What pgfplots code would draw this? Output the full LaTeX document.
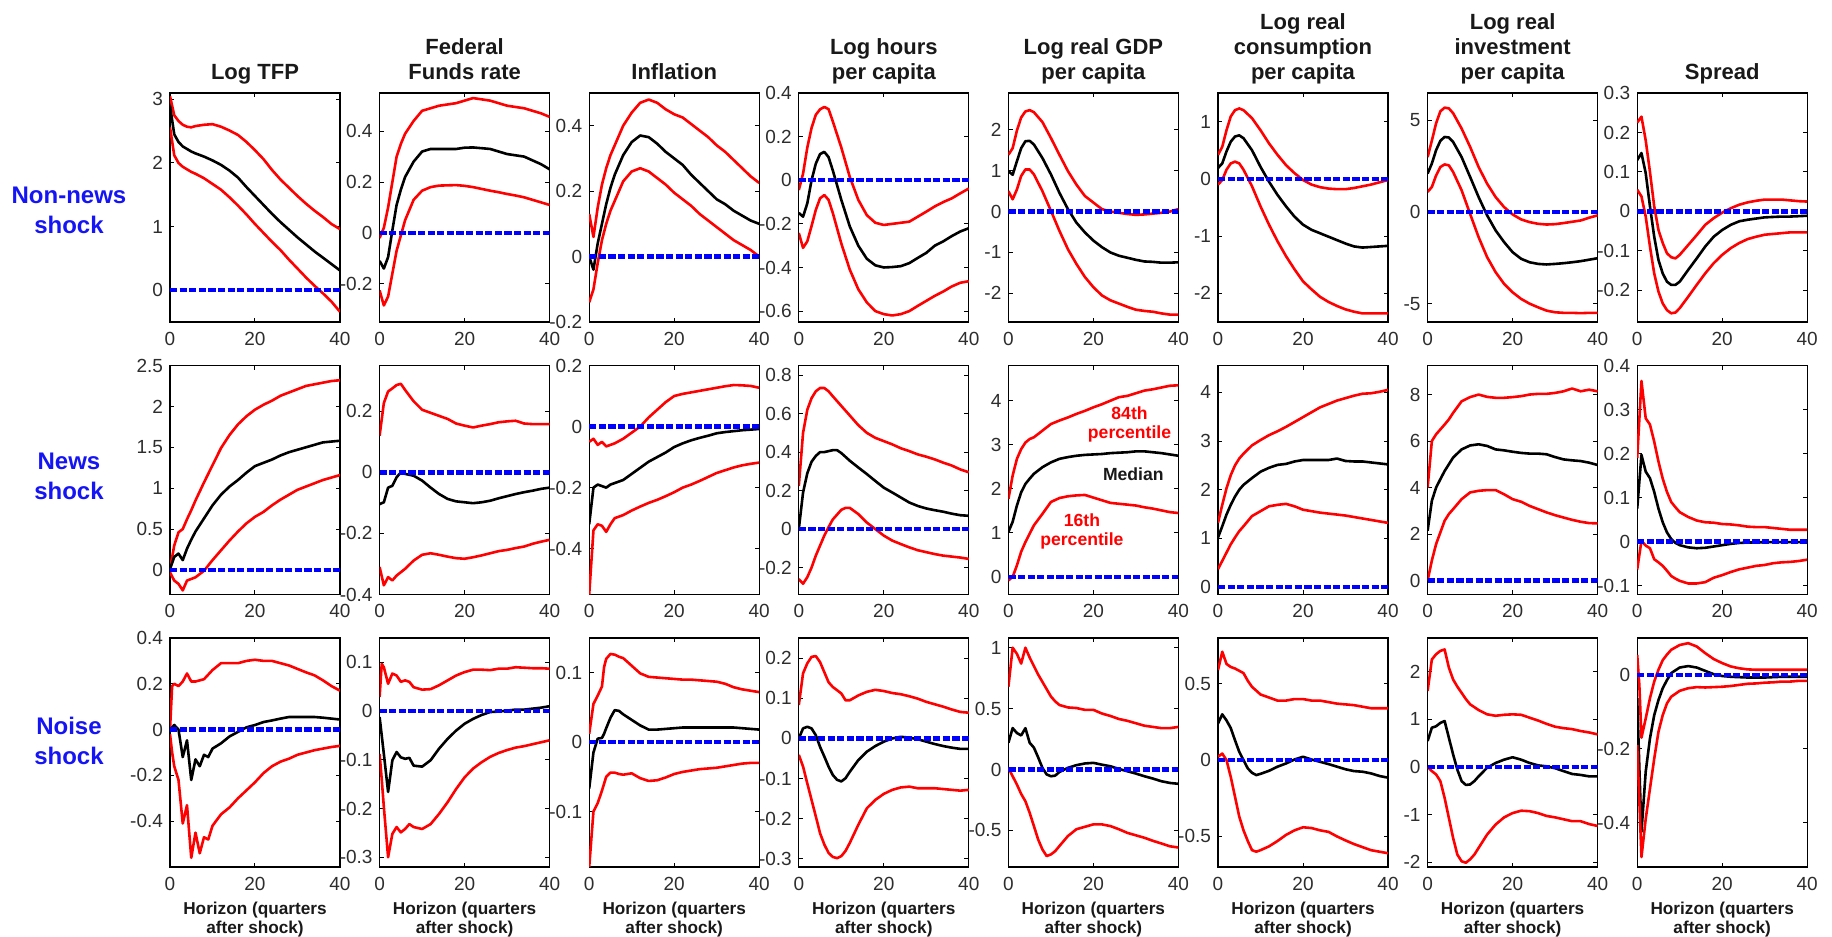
\documentclass[border=0pt]{standalone}
\usepackage{fontspec}
\setmainfont{Liberation Sans}
\usepackage{pgfplots}
\usepackage{pgfplotstable}
\pgfplotsset{compat=1.18}
\definecolor{lred}{RGB}{255,0,0}
\definecolor{lblue}{RGB}{0,0,255}
\definecolor{rowblue}{RGB}{20,20,245}
\definecolor{tickgray}{RGB}{45,45,45}

% ---------- Row 1: Non-news shock ----------
\pgfplotstableread{
x u m l
0 3.05 2.9 2.56
1 2.75 2.45 2.12
2 2.66 2.33 2.0
3 2.6 2.26 1.94
4 2.57 2.22 1.9
5 2.56 2.18 1.86
6 2.58 2.15 1.83
8 2.6 2.1 1.76
10 2.61 2.04 1.67
12 2.57 1.97 1.58
14 2.51 1.88 1.46
16 2.44 1.77 1.33
18 2.33 1.62 1.19
20 2.2 1.48 1.04
22 2.06 1.34 0.9
24 1.89 1.2 0.76
26 1.74 1.07 0.63
28 1.61 0.95 0.48
30 1.48 0.83 0.34
32 1.36 0.72 0.2
34 1.25 0.61 0.07
36 1.15 0.51 -0.05
38 1.04 0.41 -0.18
40 0.96 0.31 -0.34
}\tAA
\pgfplotstableread{
x u m l
0 -0.02 -0.11 -0.226
1 0.02 -0.14 -0.285
2 0.10 -0.095 -0.25
3 0.2 0.01 -0.16
4 0.3 0.11 -0.07
5 0.35 0.17 -0.01
6 0.39 0.22 0.05
8 0.44 0.28 0.13
10 0.48 0.32 0.166
12 0.49 0.33 0.18
14 0.5 0.33 0.186
16 0.505 0.33 0.187
18 0.51 0.33 0.188
20 0.52 0.335 0.185
22 0.53 0.336 0.18
24 0.525 0.333 0.173
26 0.52 0.33 0.166
28 0.51 0.32 0.16
30 0.50 0.31 0.153
32 0.495 0.305 0.147
34 0.49 0.30 0.14
36 0.48 0.285 0.13
38 0.47 0.27 0.12
40 0.456 0.25 0.11
}\tAB
\pgfplotstableread{
x u m l
0 0.13 0.0 -0.14
1 0.06 -0.04 -0.1
2 0.15 0.04 -0.02
3 0.22 0.1 0.05
4 0.27 0.16 0.1
5 0.31 0.21 0.14
6 0.34 0.25 0.17
8 0.40 0.31 0.23
10 0.44 0.35 0.26
12 0.47 0.37 0.27
14 0.48 0.365 0.26
16 0.47 0.345 0.24
18 0.45 0.32 0.22
20 0.435 0.30 0.195
22 0.425 0.28 0.175
24 0.405 0.25 0.155
26 0.385 0.225 0.13
28 0.365 0.2 0.11
30 0.34 0.175 0.09
32 0.32 0.16 0.07
34 0.295 0.14 0.05
36 0.27 0.125 0.035
38 0.245 0.11 0.02
40 0.225 0.1 0.0
}\tAC
\pgfplotstableread{
x u m l
0 -0.045 -0.15 -0.242
1 0.03 -0.167 -0.31
2 0.15 -0.106 -0.28
3 0.24 0.0 -0.21
4 0.30 0.076 -0.136
5 0.325 0.12 -0.083
6 0.336 0.13 -0.068
7 0.326 0.106 -0.09
8 0.27 0.045 -0.15
10 0.15 -0.09 -0.29
12 0.015 -0.212 -0.41
14 -0.09 -0.3 -0.5
16 -0.16 -0.36 -0.56
18 -0.195 -0.39 -0.6
20 -0.205 -0.4 -0.614
22 -0.2 -0.398 -0.62
24 -0.195 -0.394 -0.614
26 -0.19 -0.38 -0.6
28 -0.167 -0.356 -0.576
30 -0.144 -0.333 -0.553
32 -0.12 -0.3 -0.53
34 -0.1 -0.28 -0.51
36 -0.083 -0.256 -0.487
38 -0.06 -0.235 -0.47
40 -0.038 -0.22 -0.463
}\tAD
\pgfplotstableread{
x u m l
0 1.39 0.99 0.5
1 1.55 0.9 0.3
2 1.98 1.23 0.54
3 2.3 1.55 0.87
4 2.45 1.72 1.03
5 2.48 1.73 1.03
6 2.43 1.64 0.91
8 2.19 1.31 0.5
10 1.8 0.91 0.02
12 1.39 0.46 -0.47
14 0.99 0.06 -0.92
16 0.66 -0.27 -1.28
18 0.38 -0.51 -1.6
20 0.22 -0.71 -1.85
22 0.06 -0.87 -2.05
24 0.0 -1.0 -2.17
26 -0.03 -1.08 -2.25
28 -0.06 -1.13 -2.33
30 -0.08 -1.18 -2.4
32 -0.07 -1.22 -2.43
34 -0.05 -1.23 -2.45
36 -0.03 -1.25 -2.49
38 0.0 -1.25 -2.52
40 0.06 -1.24 -2.52
}\tAE
\pgfplotstableread{
x u m l
0 0.42 0.19 -0.1
1 0.56 0.27 -0.02
2 0.85 0.48 0.16
3 1.09 0.65 0.27
4 1.2 0.74 0.3
5 1.23 0.76 0.27
6 1.2 0.71 0.16
8 1.06 0.5 -0.13
10 0.85 0.21 -0.48
12 0.62 -0.05 -0.8
14 0.42 -0.28 -1.09
16 0.24 -0.48 -1.35
18 0.1 -0.66 -1.58
20 -0.02 -0.8 -1.79
22 -0.1 -0.89 -1.93
24 -0.145 -0.95 -2.06
26 -0.17 -1.01 -2.15
28 -0.18 -1.07 -2.22
30 -0.18 -1.13 -2.28
32 -0.16 -1.18 -2.32
34 -0.13 -1.2 -2.35
36 -0.1 -1.19 -2.35
38 -0.06 -1.18 -2.35
40 -0.02 -1.17 -2.35
}\tAF
\pgfplotstableread{
x u m l
0 3.0 2.1 1.1
1 3.9 2.65 1.37
2 4.85 3.38 2.0
3 5.5 3.89 2.46
4 5.7 4.1 2.6
5 5.66 4.07 2.55
6 5.4 3.83 2.19
8 4.56 3.0 1.19
10 3.56 1.92 -0.1
12 2.46 0.82 -1.37
14 1.55 -0.18 -2.46
16 0.82 -1.0 -3.28
18 0.27 -1.64 -3.92
20 -0.13 -2.19 -4.38
22 -0.4 -2.55 -4.74
24 -0.55 -2.74 -5.0
26 -0.64 -2.83 -5.2
28 -0.68 -2.86 -5.38
30 -0.66 -2.83 -5.47
32 -0.6 -2.79 -5.5
34 -0.53 -2.74 -5.5
36 -0.46 -2.68 -5.52
38 -0.31 -2.6 -5.5
40 -0.18 -2.52 -5.5
}\tAG
\pgfplotstableread{
x u m l
0 0.225 0.13 0.055
1 0.24 0.148 0.038
2 0.18 0.097 -0.013
3 0.1 0.013 -0.089
4 0.013 -0.064 -0.157
5 -0.047 -0.123 -0.203
6 -0.08 -0.157 -0.233
7 -0.106 -0.178 -0.25
8 -0.116 -0.186 -0.258
9 -0.119 -0.186 -0.256
10 -0.11 -0.178 -0.245
12 -0.085 -0.148 -0.216
14 -0.06 -0.119 -0.186
16 -0.034 -0.089 -0.157
18 -0.017 -0.064 -0.131
20 -0.003 -0.047 -0.11
22 0.008 -0.034 -0.093
24 0.017 -0.025 -0.08
26 0.023 -0.021 -0.07
28 0.027 -0.018 -0.064
30 0.03 -0.015 -0.059
32 0.03 -0.014 -0.057
34 0.03 -0.013 -0.055
36 0.028 -0.013 -0.053
38 0.026 -0.012 -0.053
40 0.025 -0.011 -0.053
}\tAH

% ---------- Row 2: News shock ----------
\pgfplotstableread{
x u m l
0 0.01 0.01 -0.03
1 0.3 0.16 -0.13
2 0.46 0.2 -0.17
3 0.5 0.12 -0.25
4 0.62 0.26 -0.13
5 0.73 0.37 -0.11
6 0.85 0.47 -0.09
8 1.07 0.63 -0.01
10 1.28 0.79 0.12
12 1.49 0.92 0.24
14 1.65 1.02 0.36
16 1.78 1.1 0.47
18 1.88 1.19 0.57
20 1.96 1.27 0.65
22 2.02 1.31 0.71
24 2.07 1.35 0.79
26 2.13 1.4 0.86
28 2.17 1.44 0.92
30 2.21 1.47 0.98
32 2.25 1.5 1.02
34 2.27 1.53 1.06
36 2.29 1.56 1.1
38 2.31 1.57 1.13
40 2.32 1.58 1.16
}\tBA
\pgfplotstableread{
x u m l
0 0.12 -0.104 -0.31
1 0.227 -0.098 -0.37
2 0.265 -0.05 -0.343
3 0.275 -0.044 -0.354
4 0.286 -0.016 -0.338
5 0.29 0.0 -0.327
6 0.27 -0.005 -0.316
8 0.233 -0.011 -0.289
10 0.205 -0.027 -0.27
12 0.195 -0.05 -0.265
14 0.185 -0.071 -0.27
16 0.175 -0.087 -0.276
18 0.16 -0.095 -0.281
20 0.153 -0.098 -0.283
22 0.147 -0.101 -0.278
24 0.153 -0.098 -0.272
26 0.158 -0.093 -0.265
28 0.164 -0.085 -0.258
30 0.167 -0.078 -0.254
32 0.169 -0.071 -0.248
34 0.16 -0.065 -0.243
36 0.158 -0.06 -0.234
38 0.158 -0.054 -0.227
40 0.158 -0.05 -0.221
}\tBB
\pgfplotstableread{
x u m l
0 -0.05 -0.32 -0.55
1 -0.04 -0.2 -0.34
2 -0.06 -0.19 -0.32
3 -0.05 -0.195 -0.325
4 -0.065 -0.2 -0.345
5 -0.06 -0.19 -0.32
6 -0.055 -0.185 -0.3
8 -0.04 -0.175 -0.29
10 -0.02 -0.155 -0.275
12 0.0 -0.135 -0.262
14 0.03 -0.115 -0.25
16 0.055 -0.1 -0.24
18 0.08 -0.085 -0.228
20 0.1 -0.067 -0.215
22 0.107 -0.055 -0.2
24 0.112 -0.045 -0.19
26 0.117 -0.037 -0.178
28 0.122 -0.03 -0.165
30 0.127 -0.022 -0.152
32 0.132 -0.018 -0.143
34 0.136 -0.015 -0.134
36 0.135 -0.012 -0.127
38 0.133 -0.01 -0.122
40 0.127 -0.008 -0.118
}\tBC
\pgfplotstableread{
x u m l
0 0.224 0.0 -0.26
1 0.5 0.19 -0.284
2 0.62 0.29 -0.25
3 0.68 0.35 -0.2
4 0.716 0.38 -0.138
5 0.733 0.4 -0.086
6 0.733 0.4 -0.034
7 0.716 0.405 0.01
8 0.69 0.41 0.05
9 0.665 0.41 0.075
10 0.64 0.395 0.1
11 0.615 0.375 0.11
12 0.59 0.355 0.11
14 0.54 0.32 0.078
16 0.5 0.286 0.034
18 0.474 0.25 0.0
20 0.457 0.215 -0.034
22 0.44 0.19 -0.06
24 0.42 0.164 -0.078
26 0.405 0.138 -0.095
28 0.388 0.12 -0.11
30 0.376 0.107 -0.12
32 0.362 0.098 -0.13
34 0.345 0.09 -0.138
36 0.33 0.08 -0.143
38 0.31 0.072 -0.148
40 0.295 0.069 -0.155
}\tBD
\pgfplotstableread{
x u m l
0 1.77 1.02 -0.08
1 2.3 1.25 0.0
2 2.68 1.62 0.26
3 2.9 1.92 0.57
4 3.05 2.11 0.79
5 3.13 2.23 0.98
6 3.17 2.34 1.17
8 3.32 2.49 1.43
10 3.47 2.6 1.7
12 3.55 2.68 1.79
14 3.62 2.72 1.83
16 3.7 2.75 1.85
18 3.77 2.77 1.86
20 3.85 2.78 1.8
22 3.92 2.79 1.74
24 4.0 2.81 1.68
26 4.08 2.82 1.66
28 4.11 2.83 1.64
30 4.17 2.85 1.62
32 4.23 2.85 1.58
34 4.26 2.83 1.55
36 4.3 2.81 1.51
38 4.34 2.78 1.47
40 4.35 2.75 1.45
}\tBE
\pgfplotstableread{
x u m l
0 1.32 1.02 0.37
1 1.69 1.25 0.54
2 2.03 1.49 0.71
3 2.3 1.69 0.88
4 2.5 1.86 1.02
5 2.64 2.0 1.15
6 2.74 2.1 1.25
8 2.91 2.24 1.46
10 3.02 2.37 1.56
12 3.12 2.45 1.66
14 3.2 2.51 1.69
16 3.29 2.53 1.71
18 3.39 2.58 1.66
20 3.49 2.61 1.59
22 3.59 2.61 1.56
24 3.69 2.61 1.53
26 3.76 2.61 1.51
28 3.83 2.64 1.49
30 3.88 2.59 1.47
32 3.93 2.58 1.44
34 3.97 2.58 1.41
36 3.98 2.56 1.38
38 4.01 2.54 1.35
40 4.05 2.52 1.32
}\tBF
\pgfplotstableread{
x u m l
0 4.0 2.14 0.0
1 6.0 3.43 0.86
2 6.29 4.0 1.57
3 6.5 4.36 2.07
4 6.71 4.71 2.57
5 6.93 5.0 2.86
6 7.21 5.29 3.07
8 7.71 5.64 3.5
10 7.89 5.81 3.79
12 8.0 5.86 3.86
14 7.9 5.79 3.89
16 7.86 5.64 3.89
18 7.86 5.6 3.71
20 7.89 5.54 3.5
22 7.93 5.49 3.39
24 8.0 5.46 3.21
26 8.03 5.46 3.07
28 8.03 5.43 2.93
30 8.07 5.31 2.81
32 8.14 5.21 2.71
34 8.26 5.17 2.61
36 8.14 5.14 2.53
38 8.21 5.07 2.47
40 8.14 4.97 2.46
}\tBG
\pgfplotstableread{
x u m l
0 0.19 0.075 -0.063
1 0.365 0.197 0.002
2 0.28 0.159 -0.009
3 0.266 0.144 -0.015
4 0.227 0.113 -0.04
5 0.182 0.075 -0.047
6 0.143 0.044 -0.055
7 0.113 0.021 -0.066
8 0.09 0.006 -0.078
9 0.078 -0.003 -0.084
10 0.067 -0.008 -0.089
12 0.056 -0.013 -0.095
14 0.048 -0.015 -0.095
16 0.044 -0.014 -0.092
18 0.043 -0.011 -0.082
20 0.04 -0.008 -0.076
22 0.039 -0.005 -0.069
24 0.037 -0.003 -0.063
26 0.034 -0.002 -0.059
28 0.033 -0.002 -0.055
30 0.033 -0.001 -0.053
32 0.031 -0.001 -0.049
34 0.029 -0.001 -0.047
36 0.027 -0.001 -0.046
38 0.027 -0.001 -0.044
40 0.027 -0.001 -0.041
}\tBH

% ---------- Row 3: Noise shock ----------
\pgfplotstableread{
x u m l
0 0.0 0.0 -0.02
0.5 0.19 0.01 -0.1
1 0.2 0.02 -0.16
2 0.19 0.0 -0.22
3 0.21 -0.12 -0.41
4 0.245 -0.047 -0.33
5 0.21 -0.22 -0.56
6 0.21 -0.13 -0.45
7 0.215 -0.16 -0.54
8 0.22 -0.11 -0.47
9 0.24 -0.12 -0.48
10 0.26 -0.083 -0.42
12 0.29 -0.06 -0.37
14 0.29 -0.03 -0.34
16 0.29 -0.01 -0.3
18 0.3 0.01 -0.265
20 0.305 0.02 -0.23
22 0.3 0.033 -0.19
24 0.3 0.04 -0.16
26 0.29 0.048 -0.14
28 0.28 0.055 -0.127
30 0.265 0.055 -0.11
32 0.25 0.055 -0.1
34 0.237 0.055 -0.09
36 0.215 0.052 -0.083
38 0.19 0.048 -0.076
40 0.17 0.044 -0.071
}\tCA
\pgfplotstableread{
x u m l
0 0.029 -0.012 -0.088
0.5 0.097 -0.05 -0.14
1 0.09 -0.088 -0.197
2 0.056 -0.166 -0.3
3 0.077 -0.101 -0.252
4 0.073 -0.084 -0.238
5 0.06 -0.095 -0.249
6 0.063 -0.098 -0.242
7 0.06 -0.096 -0.232
8 0.049 -0.112 -0.238
10 0.044 -0.114 -0.242
12 0.045 -0.101 -0.232
14 0.053 -0.077 -0.211
16 0.063 -0.057 -0.187
18 0.073 -0.04 -0.16
20 0.08 -0.026 -0.136
22 0.085 -0.016 -0.118
24 0.085 -0.008 -0.105
26 0.084 -0.002 -0.094
28 0.087 -0.001 -0.086
30 0.087 0.001 -0.08
32 0.09 0.003 -0.075
34 0.089 0.003 -0.072
36 0.088 0.005 -0.068
38 0.088 0.007 -0.064
40 0.087 0.01 -0.06
}\tCB
\pgfplotstableread{
x u m l
0 0.012 -0.067 -0.18
1 0.055 -0.015 -0.1
2 0.067 0.005 -0.088
3 0.08 0.006 -0.07
3.5 0.108 0.012 -0.06
4 0.12 0.02 -0.05
5 0.127 0.035 -0.044
6 0.126 0.046 -0.044
7 0.123 0.045 -0.046
8 0.121 0.04 -0.047
10 0.11 0.032 -0.045
12 0.099 0.024 -0.052
14 0.094 0.018 -0.056
16 0.093 0.018 -0.055
18 0.092 0.019 -0.051
20 0.091 0.02 -0.046
22 0.09 0.021 -0.043
24 0.09 0.021 -0.041
26 0.089 0.021 -0.039
28 0.088 0.021 -0.038
30 0.087 0.021 -0.037
32 0.084 0.021 -0.035
34 0.079 0.021 -0.033
36 0.076 0.02 -0.031
38 0.074 0.019 -0.03
40 0.072 0.018 -0.03
}\tCC
\pgfplotstableread{
x u m l
0 0.083 0.0 -0.041
1 0.162 0.025 -0.07
2 0.187 0.029 -0.112
3 0.203 0.025 -0.153
4 0.205 0.008 -0.194
5 0.19 -0.021 -0.236
6 0.165 -0.045 -0.264
7 0.14 -0.07 -0.285
8 0.128 -0.091 -0.295
9 0.12 -0.103 -0.298
10 0.112 -0.107 -0.293
11 0.095 -0.099 -0.28
12 0.095 -0.083 -0.26
14 0.107 -0.054 -0.215
16 0.116 -0.033 -0.174
18 0.121 -0.019 -0.153
20 0.118 -0.008 -0.138
22 0.113 0.0 -0.128
24 0.11 0.004 -0.122
26 0.105 0.002 -0.12
28 0.099 -0.002 -0.124
30 0.091 -0.008 -0.124
32 0.085 -0.014 -0.124
34 0.079 -0.019 -0.126
36 0.072 -0.023 -0.128
38 0.066 -0.026 -0.13
40 0.064 -0.026 -0.128
}\tCD
\pgfplotstableread{
x u m l
0 0.68 0.22 0.014
1 1.0 0.34 -0.055
2 0.95 0.3 -0.123
3 0.87 0.28 -0.2
4 1.0 0.34 -0.26
5 0.92 0.22 -0.355
6 0.85 0.18 -0.464
7 0.78 0.1 -0.574
8 0.72 0.014 -0.656
9 0.66 -0.04 -0.71
10 0.6 -0.055 -0.697
11 0.56 -0.05 -0.67
12 0.53 -0.02 -0.628
14 0.51 0.014 -0.546
16 0.505 0.036 -0.49
18 0.49 0.05 -0.47
20 0.49 0.055 -0.45
22 0.46 0.04 -0.45
24 0.44 0.027 -0.464
26 0.415 0.005 -0.49
28 0.4 -0.014 -0.52
30 0.38 -0.033 -0.54
32 0.36 -0.055 -0.56
34 0.35 -0.074 -0.585
36 0.34 -0.096 -0.607
38 0.34 -0.11 -0.63
40 0.35 -0.117 -0.64
}\tCE
\pgfplotstableread{
x u m l
0 0.59 0.24 0.022
1 0.71 0.3 0.043
2 0.63 0.26 0.0
3 0.61 0.21 -0.11
4 0.6 0.13 -0.24
5 0.585 0.054 -0.37
6 0.57 0.0 -0.46
7 0.52 -0.054 -0.53
8 0.48 -0.083 -0.59
9 0.455 -0.098 -0.6
10 0.43 -0.09 -0.59
12 0.41 -0.07 -0.565
14 0.39 -0.043 -0.53
16 0.39 -0.022 -0.49
18 0.4 0.004 -0.46
20 0.4 0.022 -0.44
22 0.39 0.004 -0.445
24 0.39 -0.011 -0.46
26 0.38 -0.026 -0.47
28 0.37 -0.043 -0.5
30 0.365 -0.06 -0.526
32 0.36 -0.072 -0.55
34 0.35 -0.076 -0.57
36 0.34 -0.087 -0.59
38 0.34 -0.104 -0.6
40 0.34 -0.115 -0.61
}\tCF
\pgfplotstableread{
x u m l
0 1.59 0.54 0.0
1 2.25 0.82 -0.09
2 2.36 0.85 -0.16
3 2.43 0.92 -0.3
4 2.46 0.96 -0.65
5 2.08 0.61 -1.07
6 1.83 0.26 -1.49
7 1.68 -0.06 -1.84
8 1.55 -0.3 -1.98
9 1.42 -0.38 -2.01
10 1.31 -0.37 -1.94
11 1.25 -0.3 -1.84
12 1.19 -0.2 -1.7
14 1.1 -0.02 -1.42
16 1.07 0.08 -1.21
18 1.09 0.15 -1.06
20 1.1 0.2 -0.97
22 1.09 0.15 -0.92
24 1.03 0.08 -0.93
26 0.97 0.03 -0.97
28 0.9 0.01 -1.03
30 0.84 -0.03 -1.06
32 0.81 -0.09 -1.1
34 0.79 -0.15 -1.14
36 0.75 -0.17 -1.14
38 0.72 -0.2 -1.2
40 0.68 -0.2 -1.24
}\tCG
\pgfplotstableread{
x u m l
0 0.054 -0.063 -0.19
0.5 -0.027 -0.25 -0.34
1 -0.17 -0.425 -0.493
2 -0.118 -0.262 -0.39
3 -0.063 -0.172 -0.308
4 -0.018 -0.109 -0.227
5 0.014 -0.068 -0.154
6 0.04 -0.036 -0.109
7 0.055 -0.014 -0.077
8 0.068 0.005 -0.059
10 0.081 0.02 -0.043
12 0.086 0.024 -0.036
14 0.077 0.02 -0.033
16 0.059 0.011 -0.034
18 0.043 0.002 -0.033
20 0.032 -0.003 -0.032
22 0.023 -0.005 -0.03
24 0.018 -0.006 -0.027
26 0.015 -0.007 -0.024
28 0.014 -0.007 -0.023
30 0.014 -0.007 -0.021
32 0.014 -0.006 -0.02
34 0.014 -0.005 -0.018
36 0.014 -0.005 -0.018
38 0.014 -0.005 -0.016
40 0.014 -0.005 -0.016
}\tCH

\pgfplotsset{
  panel/.style={
    anchor=north west, scale only axis, width=85pt, height=114.5pt,
    xmin=0, xmax=40, xtick={0,20,40},
    enlargelimits=false, clip=true,
    axis line style={line width=0.6pt, black},
    major tick length=2.2pt,
    tick style={line width=0.5pt, black},
    tick label style={font=\fontsize{9.5}{10}\selectfont, text=tickgray},
    xticklabel style={yshift=-1.5pt},
    /pgf/number format/assume math mode=true,
    scaled y ticks=false,
    title style={at={(0.5,1)}, anchor=south, inner sep=0pt, yshift=-3.2pt,
      align=center, text=black!90, font=\bfseries\fontsize{11}{12.5}\selectfont},
    xlabel style={at={(0.5,0)}, anchor=north, inner sep=0pt, yshift=-17.5pt,
      align=center, text=black!90, font=\bfseries\fontsize{8.6}{9.5}\selectfont},
  },
  redline/.style={lred, line width=1.3pt, line join=round},
  blackline/.style={black, line width=1.3pt, line join=round},
  zeroline/.style={lblue, line width=2.2pt, dash pattern=on 3.6pt off 1.2pt},
}

\newcommand{\panel}[4]{%
  \begin{axis}[panel, at={#1}, #2]
    \addplot[redline] table[x=x,y=u]{#3};
    \addplot[blackline] table[x=x,y=m]{#3};
    \addplot[redline] table[x=x,y=l]{#3};
    \addplot[zeroline] coordinates {(0,0) (40,0)};
    #4
  \end{axis}}

\newcommand{\hz}{Horizon (quarters\\after shock)}

\begin{document}
\begin{tikzpicture}
\useasboundingbox (0,0) rectangle (916pt,468.5pt);

% row labels
\begin{scope}[every node/.style={text=rowblue, font=\bfseries\fontsize{12}{15}\selectfont, align=center}]
\node at (34.5pt,363.5pt) {Non-news\\shock};
\node at (34.5pt,230.2pt) {News\\shock};
\node at (34.5pt,98pt) {Noise\\shock};
\end{scope}

% ---- Row 1 ----
\panel{(85pt,422pt)}{ymin=-0.5, ymax=3.1, ytick={0,1,2,3}, title={Log TFP\strut}}{\tAA}{}
\panel{(189.8pt,422pt)}{ymin=-0.35, ymax=0.55, ytick={-0.2,0,0.2,0.4}, title={Federal\\Funds rate\strut}}{\tAB}{}
\panel{(294.6pt,422pt)}{ymin=-0.2, ymax=0.5, ytick={-0.2,0,0.2,0.4}, title={Inflation\strut}}{\tAC}{}
\panel{(399.4pt,422pt)}{ymin=-0.65, ymax=0.4, ytick={-0.6,-0.4,-0.2,0,0.2,0.4}, title={Log hours\\per capita\strut}}{\tAD}{}
\panel{(504.2pt,422pt)}{ymin=-2.7, ymax=2.9, ytick={-2,-1,0,1,2}, title={Log real GDP\\per capita\strut}}{\tAE}{}
\panel{(609pt,422pt)}{ymin=-2.5, ymax=1.5, ytick={-2,-1,0,1}, title={Log real\\consumption\\per capita\strut}}{\tAF}{}
\panel{(713.8pt,422pt)}{ymin=-6, ymax=6.5, ytick={-5,0,5}, title={Log real\\investment\\per capita\strut}}{\tAG}{}
\panel{(818.6pt,422pt)}{ymin=-0.28, ymax=0.3, ytick={-0.2,-0.1,0,0.1,0.2,0.3}, title={Spread\strut}}{\tAH}{}

% ---- Row 2 ----
\panel{(85pt,285.75pt)}{ymin=-0.3, ymax=2.5, ytick={0,0.5,1,1.5,2,2.5}}{\tBA}{}
\panel{(189.8pt,285.75pt)}{ymin=-0.4, ymax=0.35, ytick={-0.4,-0.2,0,0.2}}{\tBB}{}
\panel{(294.6pt,285.75pt)}{ymin=-0.55, ymax=0.2, ytick={-0.4,-0.2,0,0.2}}{\tBC}{}
\panel{(399.4pt,285.75pt)}{ymin=-0.34, ymax=0.85, ytick={-0.2,0,0.2,0.4,0.6,0.8}}{\tBD}{}
\panel{(504.2pt,285.75pt)}{ymin=-0.4, ymax=4.8, ytick={0,1,2,3,4}}{\tBE}{%
  \node[text=lred, font=\bfseries\fontsize{8.8}{9.5}\selectfont, align=center] at (axis cs:28.5,3.45) {84th\\percentile};
  \node[text=black!90, font=\bfseries\fontsize{8.8}{9.5}\selectfont] at (axis cs:29.4,2.33) {Median};
  \node[text=lred, font=\bfseries\fontsize{8.8}{9.5}\selectfont, align=center] at (axis cs:17.3,1.03) {16th\\percentile};
}
\panel{(609pt,285.75pt)}{ymin=-0.15, ymax=4.55, ytick={0,1,2,3,4}}{\tBF}{}
\panel{(713.8pt,285.75pt)}{ymin=-0.6, ymax=9.25, ytick={0,2,4,6,8}}{\tBG}{}
\panel{(818.6pt,285.75pt)}{ymin=-0.12, ymax=0.4, ytick={-0.1,0,0.1,0.2,0.3,0.4}}{\tBH}{}

% ---- Row 3 ----
\panel{(85pt,149.5pt)}{ymin=-0.6, ymax=0.4, ytick={-0.4,-0.2,0,0.2,0.4}, xlabel={\hz}}{\tCA}{}
\panel{(189.8pt,149.5pt)}{ymin=-0.32, ymax=0.15, ytick={-0.3,-0.2,-0.1,0,0.1}, xlabel={\hz}}{\tCB}{}
\panel{(294.6pt,149.5pt)}{ymin=-0.18, ymax=0.15, ytick={-0.1,0,0.1}, xlabel={\hz}}{\tCC}{}
\panel{(399.4pt,149.5pt)}{ymin=-0.32, ymax=0.25, ytick={-0.3,-0.2,-0.1,0,0.1,0.2}, xlabel={\hz}}{\tCD}{}
\panel{(504.2pt,149.5pt)}{ymin=-0.8, ymax=1.08, ytick={-0.5,0,0.5,1}, xlabel={\hz}}{\tCE}{}
\panel{(609pt,149.5pt)}{ymin=-0.7, ymax=0.8, ytick={-0.5,0,0.5}, xlabel={\hz}}{\tCF}{}
\panel{(713.8pt,149.5pt)}{ymin=-2.1, ymax=2.7, ytick={-2,-1,0,1,2}, xlabel={\hz}}{\tCG}{}
\panel{(818.6pt,149.5pt)}{ymin=-0.52, ymax=0.1, ytick={-0.4,-0.2,0}, xlabel={\hz}}{\tCH}{}
\end{tikzpicture}
\end{document}
